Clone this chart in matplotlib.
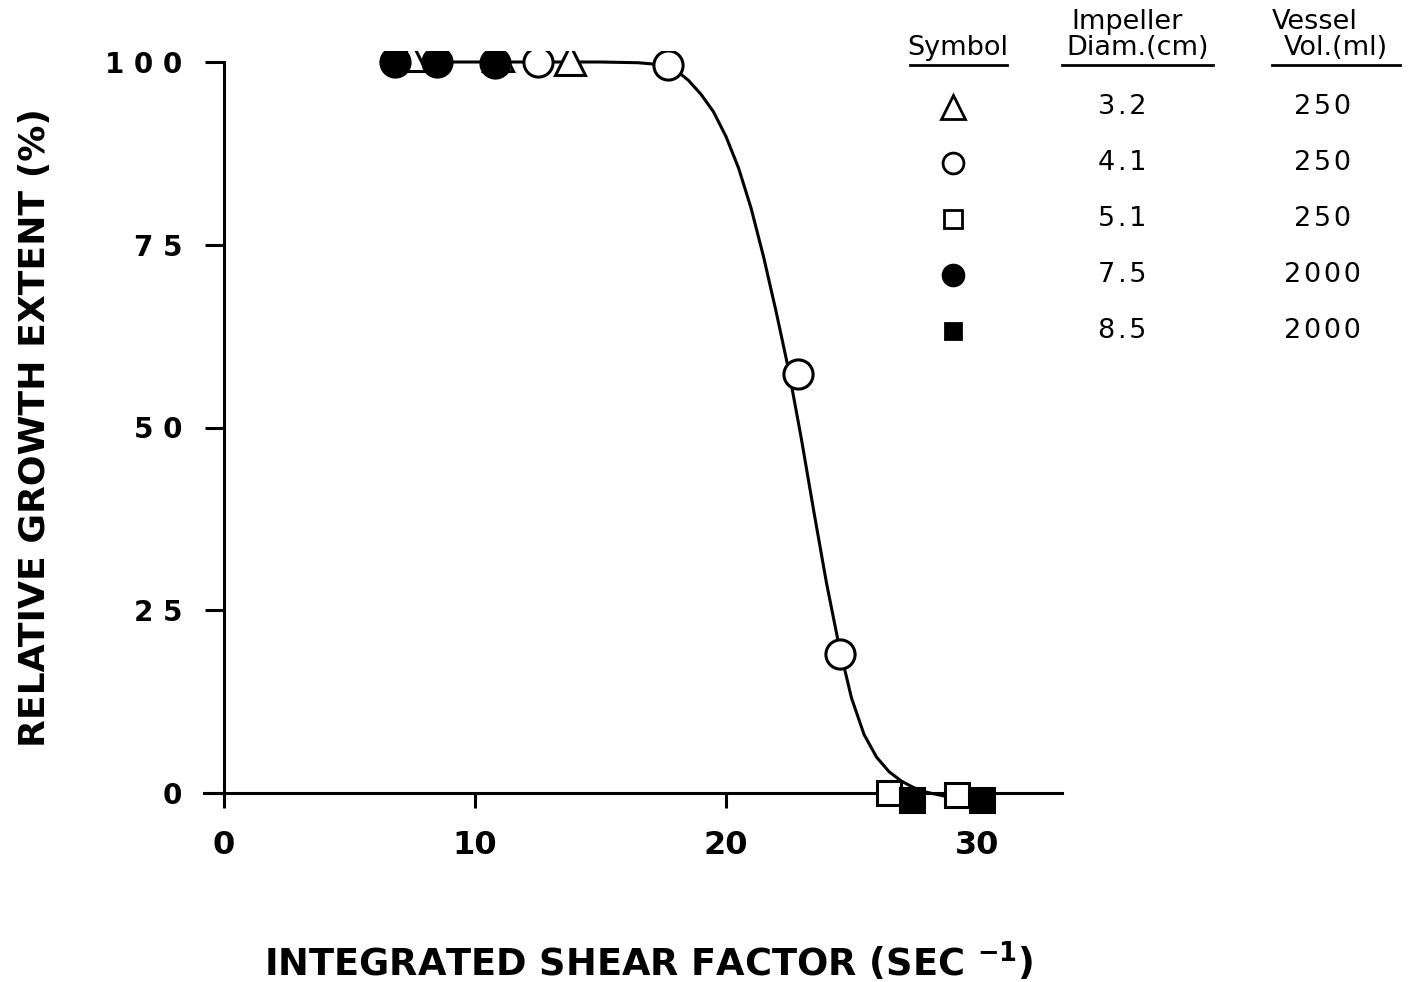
import numpy as np
import matplotlib.pyplot as plt
from matplotlib.lines import Line2D

# measured points, grouped by impeller
tri_x = [7.45, 10.9, 13.8]            # 3.2 cm impeller, 250 ml
tri_y = [100.8, 100.8, 100.3]
ocirc_x = [12.5, 17.7, 22.85, 24.55]  # 4.1 cm impeller, 250 ml
ocirc_y = [100.0, 99.6, 57.3, 19.0]
osq_x = [26.5, 29.2]                  # 5.1 cm impeller, 250 ml
osq_y = [0.0, -0.3]
fcirc_x = [6.8, 8.5, 10.8]            # 7.5 cm impeller, 2000 ml
fcirc_y = [100.0, 100.0, 99.8]
fsq_x = [27.4, 30.2]                  # 8.5 cm impeller, 2000 ml
fsq_y = [-0.9, -1.0]

# hand-fitted curve through the data
curve_x = [6.8, 12.0, 15.0, 16.5, 17.5, 18.0, 18.5, 19.0, 19.5, 20.0, 20.5, 21.0,
           21.5, 22.0, 22.5, 23.0, 23.5, 24.0, 24.5, 25.0, 25.5, 26.0, 26.5,
           27.0, 27.5, 28.0, 28.8]
curve_y = [100.0, 100.0, 100.0, 99.9, 99.6, 98.9, 97.5, 95.6, 93.2, 89.8, 85.5, 80.0,
           73.3, 65.8, 57.8, 48.5, 38.5, 28.8, 20.2, 13.0, 8.0, 4.9, 2.9,
           1.6, 0.7, 0.1, -0.5]

xticks = [0, 10, 20, 30]
yticks = [0, 25, 50, 75, 100]
ytick_labels = ["0", "2 5", "5 0", "7 5", "1 0 0"]

# key table
key_markers = ["^", "o", "s", "o", "s"]
key_fills = ["white", "white", "white", "black", "black"]
key_sizes = [17, 15, 13, 15, 12]
key_diam = ["3.2", "4.1", "5.1", "7.5", "8.5"]
key_vol = ["250", "250", "250", "2000", "2000"]

HAIR = "\u200a"


def spaced(s):
    # open up the tracking a little with hair spaces
    return HAIR.join(s)


W, H = 1416, 982
fig = plt.figure(figsize=(W / 100, H / 100), dpi=100)

x0, x1 = -1.0, 34.0
y0, y1 = -6.0, 101.5
px_x0, px_per_x = 224, 25.1
px_y0, px_per_y = 793, 7.31
left = (px_x0 + x0 * px_per_x) / W
right = (px_x0 + x1 * px_per_x) / W
bottom = (H - (px_y0 - y0 * px_per_y)) / H
top = (H - (px_y0 - y1 * px_per_y)) / H
ax = fig.add_axes([left, bottom, right - left, top - bottom])
ax.set_xlim(x0, x1)
ax.set_ylim(y0, y1)

lw = 2.2
ax.plot(curve_x, curve_y, color="black", lw=lw, zorder=2, solid_capstyle="round",
        solid_joinstyle="round")
ax.plot(tri_x, tri_y, "^", ms=22, mfc="white", mec="black", mew=lw, zorder=3)
ax.plot(fcirc_x, fcirc_y, "o", ms=21, mfc="black", mec="black", mew=lw, zorder=4)
ax.plot(ocirc_x, ocirc_y, "o", ms=21, mfc="white", mec="black", mew=lw, zorder=4)
ax.plot(osq_x, osq_y, "s", ms=17, mfc="white", mec="black", mew=lw, zorder=4)
ax.plot(fsq_x, fsq_y, "s", ms=17, mfc="black", mec="black", mew=lw, zorder=5)

for side in ["top", "right"]:
    ax.spines[side].set_visible(False)
ax.spines["left"].set_position(("data", 0))
ax.spines["bottom"].set_position(("data", 0))
ax.spines["left"].set_bounds(-1, 100)
ax.spines["bottom"].set_bounds(-0.8, 33.4)
for side in ["left", "bottom"]:
    ax.spines[side].set_linewidth(lw)

ax.set_xticks(xticks)
ax.set_xticklabels([str(t) for t in xticks], fontsize=23, fontweight="bold",
                   family="DejaVu Sans")
ax.set_yticks(yticks)
ax.set_yticklabels(ytick_labels, fontsize=20, fontweight="bold", family="DejaVu Sans")
ax.tick_params(axis="x", direction="out", length=11, width=lw, pad=16)
ax.tick_params(axis="y", direction="out", length=14, width=lw, pad=16)

fig.text(649 / W, 1 - 962 / H, r"INTEGRATED SHEAR FACTOR (SEC $^{\mathbf{-1}}$)",
         ha="center", va="center", fontsize=26.5, fontweight="bold",
         family="DejaVu Sans")
fig.text(35 / W, 1 - 428 / H, "RELATIVE GROWTH EXTENT (%)", rotation=90,
         ha="center", va="center", fontsize=26, fontweight="bold",
         family="DejaVu Sans")

# key table in its own axes: x in pixel-like units, y in row index
kx0, kx1 = 900, 1416
row0, row_step = 107, 56
kax = fig.add_axes([kx0 / W, 1 - 360 / H, (kx1 - kx0) / W, 360 / H])
kax.set_xlim(kx0, kx1)
kax.set_ylim((360 - row0) / row_step, -row0 / row_step)
kax.axis("off")

col_sym, col_diam, col_vol = 953, 1122, 1322
rows = np.arange(len(key_diam))
for r, m, fc, s in zip(rows, key_markers, key_fills, key_sizes):
    kax.plot([col_sym], [r], m, ms=s, mfc=fc, mec="black", mew=2.0)
txt = dict(fontsize=19.5, family="DejaVu Sans", ha="center", va="center")
for r, d, v in zip(rows, key_diam, key_vol):
    kax.text(col_diam, r, spaced(d), **txt)
    kax.text(col_vol, r, spaced(v), **txt)

kax.text(958, -1.05, "Symbol", **txt)
kax.text(1127, -1.52, "Impeller", **txt)
kax.text(1138, -1.05, "Diam.(cm)", **txt)
kax.text(1315, -1.52, "Vessel", **txt)
kax.text(1336, -1.05, "Vol.(ml)", **txt)
for xa, xb in [(910, 1007), (1062, 1213), (1272, 1400)]:
    kax.add_line(Line2D([xa, xb], [-0.75, -0.75], color="black", lw=2.0))

fig.savefig("out.png", dpi=100)
